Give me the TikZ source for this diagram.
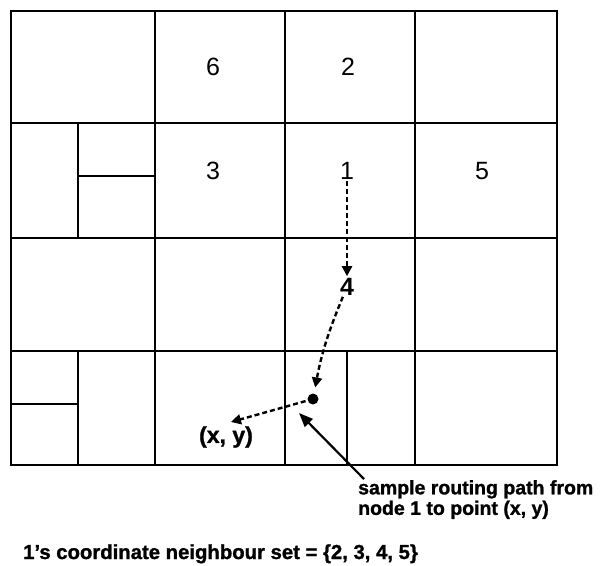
\documentclass[tikz,border=0pt]{standalone}
\usepackage{fontspec}
\setmainfont{Liberation Sans}
\newfontfamily\heavyfont{Liberation Sans Bold}[FakeBold=1.2]
\usetikzlibrary{arrows.meta}

\tikzset{
  cell/.style={line width=1.7pt},
  num/.style={font=\fontsize{25}{28}\selectfont, inner sep=1pt},
  route/.style={line width=2.4pt, dash pattern=on 5pt off 3pt,
    -{Triangle[length=10pt,width=10pt]}},
  pointer/.style={line width=2.2pt, -{Triangle[length=14pt,width=11pt]}},
  caption/.style={font=\heavyfont\fontsize{20.3}{20.5}\selectfont, inner sep=0pt}
}

\begin{document}
\begin{tikzpicture}[x=1pt, y=-1pt]
\useasboundingbox (0,0) rectangle (601,565);

% grid of cells
\draw[cell] (11,11) rectangle (557,465);
\foreach \x in {155,285,415} \draw[cell] (\x,11) -- (\x,465);
\foreach \y in {123,238,351} \draw[cell] (11,\y) -- (557,\y);
\draw[cell] (78,123) -- (78,238) (78,176) -- (155,176);
\draw[cell] (78,351) -- (78,465) (11,404) -- (78,404);
\draw[cell] (347,351) -- (347,465);

% cell labels
\node[num] (n6) at (213,67) {6};
\node[num] (n2) at (348,67) {2};
\node[num] (n3) at (213,171) {3};
\node[num] (n1) at (347,171) {1};
\node[num] (n5) at (482,171) {5};
\node[num, font=\bfseries\fontsize{25}{28}\selectfont] (n4) at (347,287) {4};

% routing path
\node[circle, fill, inner sep=0pt, minimum size=11pt] (dot) at (313,399) {};
\coordinate (xy) at (231,422);
\draw[route, shorten >=1pt] (n1) -- (n4);
\draw[route, shorten >=6pt] (n4) to[bend right=6] (dot);
\draw[route, shorten <=2pt] (dot) -- (xy);
\node[caption, font=\heavyfont\fontsize{23}{24}\selectfont] (xylabel) at (226,437) {(x, y)};

% note
\node[caption, font=\heavyfont\fontsize{19.5}{20.5}\selectfont, anchor=north west, align=left] (note) at (358,480)
  {sample routing path from\\node 1 to point (x, y)};
\coordinate (tail) at (364,479);
\coordinate (hit) at (299,413);
\draw[pointer] (tail) -- (hit);

\node[caption, anchor=base west] (nbset) at (23,559)
  {1’s coordinate neighbour set = \{2, 3, 4, 5\}};
\end{tikzpicture}
\end{document}
